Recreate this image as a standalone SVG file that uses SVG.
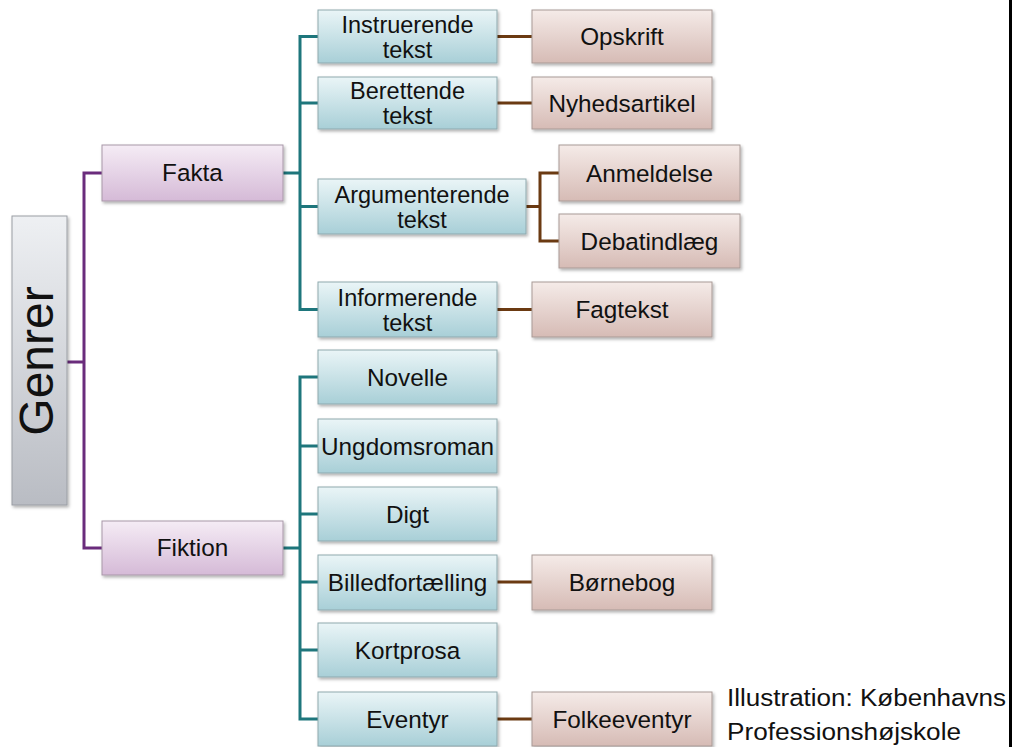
<svg xmlns="http://www.w3.org/2000/svg" width="1012" height="747" viewBox="0 0 1012 747">
<defs>
<linearGradient id="gGrey" x1="0" y1="0" x2="0" y2="1"><stop offset="0" stop-color="#eef0f3"/><stop offset="1" stop-color="#b9bcc3"/></linearGradient>
<linearGradient id="gPurple" x1="0" y1="0" x2="0" y2="1"><stop offset="0" stop-color="#f5ecf5"/><stop offset="1" stop-color="#d5bad7"/></linearGradient>
<linearGradient id="gBlue" x1="0" y1="0" x2="0" y2="1"><stop offset="0" stop-color="#eaf5f7"/><stop offset="1" stop-color="#a8cfd7"/></linearGradient>
<linearGradient id="gBrown" x1="0" y1="0" x2="0" y2="1"><stop offset="0" stop-color="#f5ebe8"/><stop offset="1" stop-color="#d6bbb5"/></linearGradient>
<filter id="sh" x="-10%" y="-10%" width="125%" height="130%"><feDropShadow dx="1.5" dy="2" stdDeviation="1.5" flood-color="#000" flood-opacity="0.3"/></filter>
</defs>
<style>
.box{stroke:#9a9ea4;stroke-width:1;filter:url(#sh)}
.grey{fill:url(#gGrey)}
.pur{fill:url(#gPurple);stroke:#a897a8}
.blu{fill:url(#gBlue);stroke:#8fa9ae}
.brn{fill:url(#gBrown);stroke:#a89a96}
text{font-family:"Liberation Sans",Arial,sans-serif;font-size:24.3px;fill:#111;text-anchor:middle}
.two{font-size:23.5px}
.c{fill:none;stroke-width:3}
.cp{stroke:#6a2c7c}
.ct{stroke:#1e767c}
.cb{stroke:#6b3a12}
</style>
<rect width="1012" height="747" fill="#ffffff"/>
<line x1="1010.5" y1="0" x2="1010.5" y2="747" stroke="#000" stroke-width="3"/>
<g id="connectors">
<path class="c cp" d="M67 362H84M102 173H84V548H102"/>
<path class="c ct" d="M283 173H300M318 36.5H300V309.5H318M300 103H318M300 206.5H318"/>
<path class="c ct" d="M283 548H300M318 377H300V719H318M300 446H318M300 514H318M300 582H318M300 650H318"/>
<path class="c cb" d="M497 36.5H532M497 103H532M497 309.5H532M526 206.5H540M559 173H540V241H559M497 582H532M497 719H532"/>
</g>
<g id="genrer"><rect class="box grey" x="12" y="216" width="55" height="289"/><text transform="translate(53 361) rotate(-90)" style="font-size:48px">Genrer</text></g>
<g id="fakta"><rect class="box pur" x="102" y="145" width="181" height="56"/><text x="192.5" y="181">Fakta</text></g>
<g id="fiktion"><rect class="box pur" x="102" y="521" width="181" height="54"/><text x="192.5" y="556">Fiktion</text></g>
<g id="instruerende"><rect class="box blu" x="318" y="10" width="179" height="53"/><text class="two" x="407.5" y="32.5">Instruerende</text><text class="two" x="407.5" y="57.5">tekst</text></g>
<g id="berettende"><rect class="box blu" x="318" y="77" width="179" height="52"/><text class="two" x="407.5" y="99">Berettende</text><text class="two" x="407.5" y="124">tekst</text></g>
<g id="argumenterende"><rect class="box blu" x="318" y="179" width="208" height="55"/><text class="two" x="422" y="202.5">Argumenterende</text><text class="two" x="422" y="227.5">tekst</text></g>
<g id="informerende"><rect class="box blu" x="318" y="282" width="179" height="55"/><text class="two" x="407.5" y="305.5">Informerende</text><text class="two" x="407.5" y="330.5">tekst</text></g>
<g id="opskrift"><rect class="box brn" x="532" y="10" width="180" height="53"/><text x="622" y="45">Opskrift</text></g>
<g id="nyhedsartikel"><rect class="box brn" x="532" y="77" width="180" height="52"/><text x="622" y="111.5">Nyhedsartikel</text></g>
<g id="anmeldelse"><rect class="box brn" x="559" y="145" width="181" height="56"/><text x="649.5" y="181.5">Anmeldelse</text></g>
<g id="debatindlaeg"><rect class="box brn" x="559" y="214" width="181" height="54"/><text x="649.5" y="249.5">Debatindlæg</text></g>
<g id="fagtekst"><rect class="box brn" x="532" y="282" width="180" height="55"/><text x="622" y="318">Fagtekst</text></g>
<g id="novelle"><rect class="box blu" x="318" y="350" width="179" height="54"/><text x="407.5" y="385.5">Novelle</text></g>
<g id="ungdomsroman"><rect class="box blu" x="318" y="419" width="179" height="54"/><text x="407.5" y="454.5">Ungdomsroman</text></g>
<g id="digt"><rect class="box blu" x="318" y="487" width="179" height="54"/><text x="407.5" y="522.5">Digt</text></g>
<g id="billedfortaelling"><rect class="box blu" x="318" y="555" width="179" height="55"/><text x="407.5" y="590.5">Billedfortælling</text></g>
<g id="kortprosa"><rect class="box blu" x="318" y="623" width="179" height="54"/><text x="407.5" y="658.5">Kortprosa</text></g>
<g id="eventyr"><rect class="box blu" x="318" y="692" width="179" height="54"/><text x="407.5" y="727.5">Eventyr</text></g>
<g id="boernebog"><rect class="box brn" x="532" y="555" width="180" height="55"/><text x="622" y="590.5">Børnebog</text></g>
<g id="folkeeventyr"><rect class="box brn" x="532" y="692" width="180" height="54"/><text x="622" y="727.5">Folkeeventyr</text></g>
<g id="credit">
<text x="727" y="706" style="text-anchor:start;font-size:23px" textLength="279" lengthAdjust="spacingAndGlyphs">Illustration: Københavns</text>
<text x="727" y="740" style="text-anchor:start;font-size:23px" textLength="234" lengthAdjust="spacingAndGlyphs">Professionshøjskole</text>
</g>
</svg>
